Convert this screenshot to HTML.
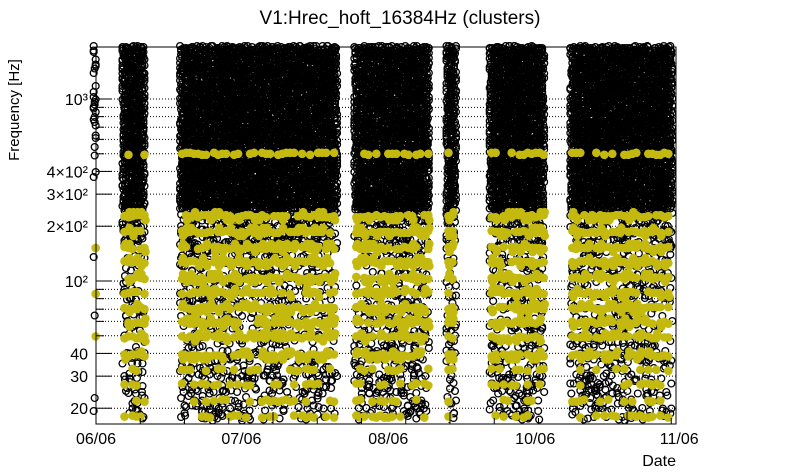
<!DOCTYPE html>
<html><head><meta charset="utf-8"><style>
body{margin:0;background:#fff;}
svg{display:block;font-family:"Liberation Sans",sans-serif;}
</style></head><body>
<svg id="chart" width="805" height="472">
<rect width="805" height="472" fill="#fff"/>
<text x="400" y="24" font-size="19" text-anchor="middle">V1:Hrec_hoft_16384Hz (clusters)</text>
<text transform="translate(19,110) rotate(-90)" font-size="15" text-anchor="middle">Frequency [Hz]</text>
<text x="676" y="466" font-size="16" text-anchor="end">Date</text>
<g id="grid"></g><g id="marks"></g><g id="axes"></g>
</svg>
<script>
// Data (x in axis units, 1 unit = one labeled step)
const segStart = [-0.03, 0.17, 0.57, 1.78, 2.42, 2.72, 3.28];
const segEnd   = [ 0.03, 0.36, 1.70, 2.34, 2.52, 3.13, 4.02];
const segDense = [0, 1, 1, 1, 1, 1, 1];
const bandFreqs = [500, 227, 186, 152, 127, 104, 86, 71, 59, 49, 39, 32.5, 27, 22, 18];
const tickVals = [20, 30, 40, 50, 60, 70, 80, 90, 100, 200, 300, 400, 500, 600, 700, 800, 900, 1000];
const tickLabels = {20:"20",30:"30",40:"40",100:"10²",200:"2×10²",300:"3×10²",400:"4×10²",1000:"10³"};
const xLabelPos = [0, 1.01, 2.03, 3.05, 4.05];
const xLabels = ["06/06","07/06","08/06","10/06","11/06"];

const L=96,R=676,T=47,B=424;
const xs=v=>L+v*144;
const ys=f=>281-(Math.log10(f)-2)*182;
const NS="http://www.w3.org/2000/svg";
function mk(tag,attrs,parent){const e=document.createElementNS(NS,tag);for(const k in attrs)e.setAttribute(k,attrs[k]);parent.appendChild(e);return e;}
const grid=document.getElementById('grid'),marks=document.getElementById('marks'),axes=document.getElementById('axes');
function hsh(a,b){let h=(a*374761393+b*668265263)|0;h=(h^(h>>>13))*1274126177|0;return ((h^(h>>>16))>>>0)%1000;}

tickVals.forEach(v=>{const y=ys(v);
 const g=mk('line',{x1:L,x2:R,y1:y,y2:y,stroke:'#000','stroke-dasharray':'1,2','stroke-width':1},grid);
 
 
 const big=tickLabels[v]!==undefined;
 const t=mk('line',{x1:L,x2:L+(big?16:8),y1:y,y2:y,stroke:'#000'},axes);
 
 
 if(big){const tx=mk('text',{x:L-8,y:y+6,'font-size':16,'text-anchor':'end'},axes);tx.textContent=tickLabels[v];
  
  }
});
[184,272,449,626].forEach(x=>{const g=mk('line',{x1:x,x2:x,y1:T,y2:B,stroke:'#000','stroke-dasharray':'1,2'},grid);
 
 });
for(let x=L;x<=R;x+=44.25){const t=mk('line',{x1:x,x2:x,y1:B,y2:B-((Math.round((x-L)/44.25)%4==0)?12:6),stroke:'#000'},axes);
 
 }
xLabels.forEach((s,i)=>{const t=mk('text',{x:xs(xLabelPos[i]),y:444,'font-size':16,'text-anchor':'middle'},axes);t.textContent=s;
 
 });

// black cluster circles
segStart.forEach((s,k)=>{
 const x0=xs(s),x1=xs(segEnd[k]);
 const gs=mk('g',{fill:'none',stroke:'#000','stroke-width':1.3},marks);
 
 
 let i=0;
 const dx=segDense[k]?2.5:4;
 for(let x=x0+3;x<=x1-3+0.01;x+=dx,i++){
  let j=0;
  for(let y=T;y<=B-3;y+=2.5,j++){
   const f=Math.pow(10,2+(281-y)/182);
   const h=hsh(i+k*1000,j);
   let keep;
   if(!segDense[k]) keep=f>600 ? h<600 : (f>190 ? h<200 : h<40);
   else if(f>240) keep=h<950;
   else if(f>150) keep=h<300;
   else keep=h<150;
   if(!keep) continue;
   const c=mk('circle',{cx:x+(h%3-1),cy:y+((h>>2)%3-1),r:3.4},gs);
   
   
  }
 }
});
// yellow bands
segStart.forEach((s,k)=>{
 const x0=xs(s),x1=xs(segEnd[k]);
 const gy=mk('g',{fill:'#c4b90f'},marks);
 
 
 bandFreqs.forEach((f,b)=>{
  const y=ys(f); let i=0;
  for(let x=x0+4;x<=x1-3+0.01;x+=segDense[k]?4:12,i++){
   const h=hsh(i+k*500,b+77);
   if(!segDense[k] && (b%3)!=0) continue;
   let p = b==0 ? 650 : (b>=11 ? 450 : 880);
   if(h>p) continue;
   const c=mk('circle',{cx:x,cy:y+((h>>3)%3-1),r:4.3},gy);
   
   
   if(b>0 && b<11 && segDense[k] && (h%2)==0){
    const c2=mk('circle',{cx:x+1,cy:y+((h%4)<2?-4:4),r:4.3},gy);
    
    
   }
  }
 });
});
const fr=mk('rect',{x:L,y:T,width:R-L,height:B-T,fill:'none',stroke:'#000','stroke-width':1},axes);


</script>
</body></html>
